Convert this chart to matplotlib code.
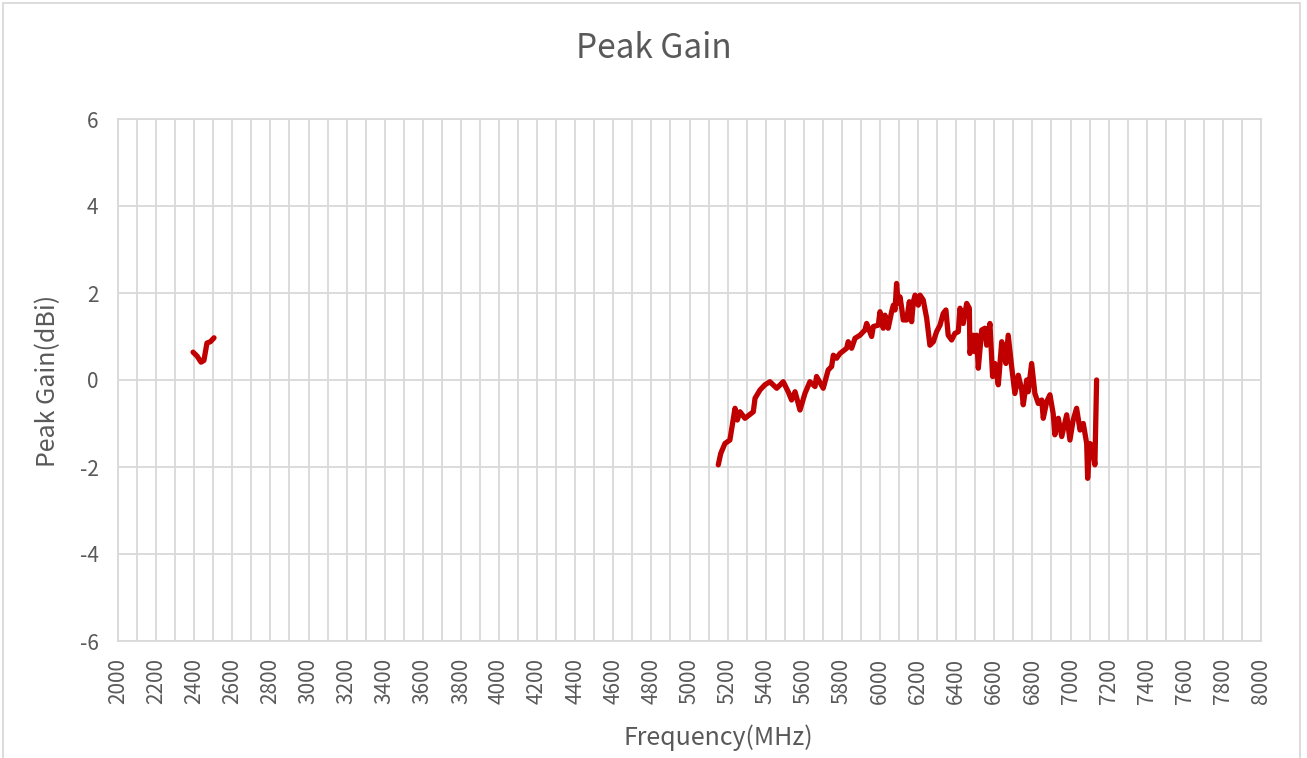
import matplotlib.pyplot as plt
from matplotlib.patches import Rectangle

# 2.4 GHz band (MHz, dBi)
freq_24 = [2394, 2415, 2436, 2451, 2467, 2485, 2504]
gain_24 = [0.64, 0.55, 0.41, 0.45, 0.85, 0.88, 0.97]

# 5-7 GHz band (MHz, dBi)
freq_5g = [5151, 5164, 5186, 5212, 5239, 5251, 5265, 5291, 5335, 5344,
           5370, 5396, 5422, 5458, 5492, 5518, 5536, 5554, 5580, 5606,
           5632, 5659, 5667, 5702, 5728, 5746, 5755, 5772, 5790, 5825,
           5833, 5851, 5869, 5895, 5921, 5930, 5956, 5965, 5991, 6000,
           6017, 6026, 6043, 6061, 6070, 6079, 6087, 6096, 6105, 6114,
           6122, 6140, 6154, 6166, 6175, 6184, 6201, 6210, 6227, 6245,
           6262, 6280, 6297, 6315, 6332, 6346, 6358, 6376, 6393, 6411,
           6420, 6437, 6455, 6469, 6472, 6490, 6498, 6507, 6516, 6534,
           6551, 6560, 6577, 6591, 6603, 6621, 6639, 6651, 6661, 6673,
           6691, 6708, 6726, 6744, 6752, 6770, 6778, 6796, 6813, 6831,
           6849, 6857, 6875, 6892, 6909, 6918, 6936, 6954, 6980, 6997,
           7014, 7032, 7050, 7067, 7085, 7090, 7102, 7116, 7128, 7137]
gain_5g = [-1.95, -1.69, -1.46, -1.38, -0.65, -0.92, -0.73, -0.88, -0.73, -0.42,
           -0.23, -0.11, -0.04, -0.19, -0.04, -0.27, -0.46, -0.27, -0.69, -0.31,
           -0.04, -0.15, 0.08, -0.19, 0.23, 0.31, 0.57, 0.50, 0.61, 0.73,
           0.88, 0.73, 0.96, 1.03, 1.15, 1.30, 1.00, 1.23, 1.26, 1.57,
           1.19, 1.49, 1.19, 1.57, 1.72, 1.61, 2.22, 1.76, 1.91, 1.65,
           1.38, 1.38, 1.80, 1.34, 1.80, 1.95, 1.72, 1.95, 1.84, 1.42,
           0.80, 0.88, 1.11, 1.26, 1.53, 1.61, 1.03, 0.92, 1.07, 1.11,
           1.65, 1.30, 1.76, 1.65, 0.61, 1.03, 0.65, 1.03, 0.27, 1.15,
           1.19, 0.80, 1.30, 0.08, 0.38, -0.11, 0.88, 0.61, 0.38, 1.03,
           0.31, -0.31, 0.11, -0.23, -0.57, 0.00, -0.27, 0.38, -0.31, -0.54,
           -0.46, -0.88, -0.50, -0.34, -0.77, -1.26, -0.88, -1.30, -0.80, -1.38,
           -0.92, -0.65, -1.15, -1.00, -1.46, -2.26, -1.46, -1.53, -1.95, 0.00]

yticks = [-6, -4, -2, 0, 2, 4, 6]

txt = '#595959'
grid = '#D9D9D9'
line_col = '#C00000'
fam = ['Noto Sans CJK SC', 'DejaVu Sans']

fig = plt.figure(figsize=(13.07, 7.58), dpi=100)
ax = fig.add_axes([118 / 1307, 1 - 641 / 758, (1261 - 118) / 1307, (641 - 119) / 758])

for fx, gy in [(freq_24, gain_24), (freq_5g, gain_5g)]:
    ax.plot(fx, gy, color=line_col, lw=3.8, solid_capstyle='round', solid_joinstyle='round')

ax.set_xlim(2000, 8000)
ax.set_ylim(-6, 6)
ax.set_xticks(range(2000, 8001, 200))
ax.set_xticks(range(2000, 8001, 100), minor=True)
ax.set_yticks(yticks)
ax.set_yticklabels([('-' + str(-v)) if v < 0 else str(v) for v in yticks])
ax.grid(True, which='both', color=grid, lw=1.3)
ax.set_axisbelow(True)
ax.tick_params(which='both', length=0)
ax.tick_params(axis='x', labelrotation=90, pad=12, labelsize=15, labelcolor=txt)
ax.tick_params(axis='y', pad=14, labelsize=15, labelcolor=txt)
for lab in ax.get_xticklabels() + ax.get_yticklabels():
    lab.set_family(fam)
    lab.set_fontweight('light')
for s in ax.spines.values():
    s.set_color(grid)
    s.set_linewidth(1.3)

fig.text(0.5, 1 - 49 / 758, 'Peak Gain', ha='center', va='center', fontsize=24, color=txt,
         family=fam, fontweight='light')
fig.text(718 / 1307, 1 - 738 / 758, 'Frequency(MHz)', ha='center', va='center', fontsize=18,
         color=txt, family=fam, fontweight='light')
fig.text(48 / 1307, 1 - 381 / 758, 'Peak Gain(dBi)', ha='center', va='center', rotation=90,
         fontsize=18, color=txt, family=fam, fontweight='light')

fig.patches.append(Rectangle((3 / 1307, -0.01), 1297 / 1307, 1 - 3 / 758 + 0.01, transform=fig.transFigure,
                             fill=False, edgecolor=grid, lw=1.3))

fig.savefig('out.png', dpi=100, facecolor='white')
